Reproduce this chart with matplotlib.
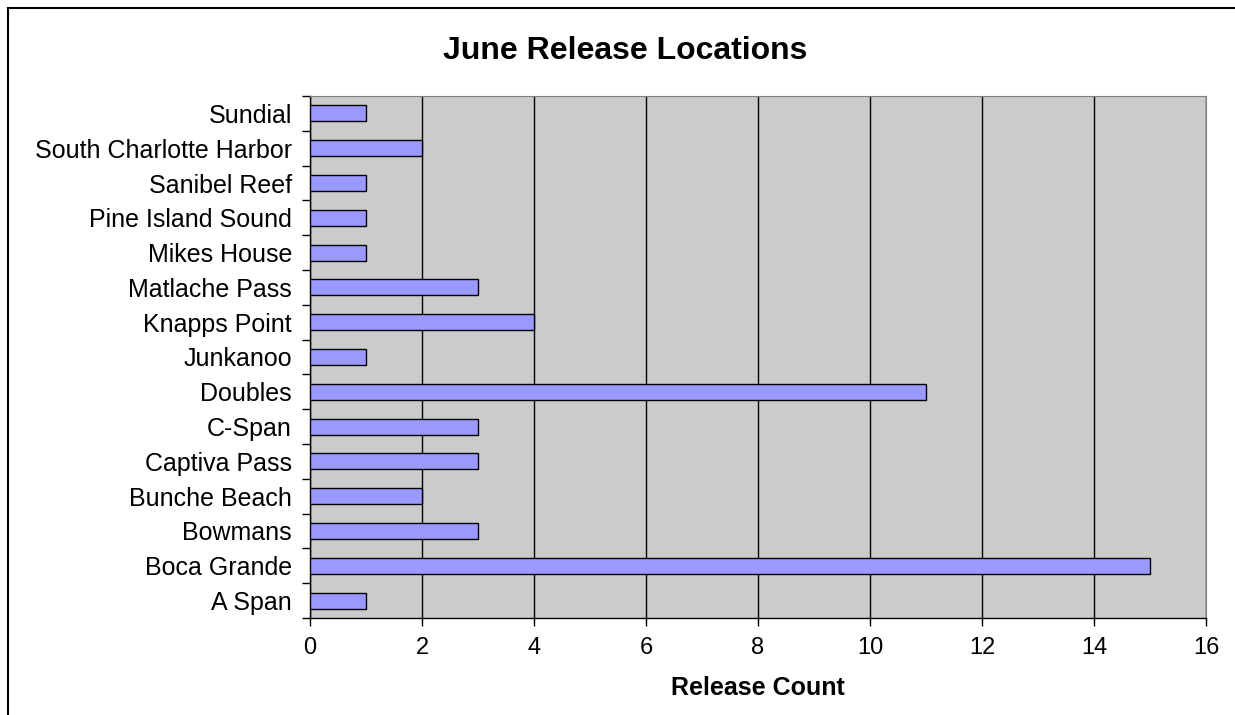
import matplotlib.pyplot as plt
from matplotlib.patches import Rectangle

plt.rcParams['font.family'] = ['Liberation Sans', 'DejaVu Sans']

locations = ["A Span", "Boca Grande", "Bowmans", "Bunche Beach", "Captiva Pass",
             "C-Span", "Doubles", "Junkanoo", "Knapps Point", "Matlache Pass",
             "Mikes House", "Pine Island Sound", "Sanibel Reef",
             "South Charlotte Harbor", "Sundial"]
counts = [1, 15, 3, 2, 3, 3, 11, 1, 4, 3, 1, 1, 1, 2, 1]
xticks = [0, 2, 4, 6, 8, 10, 12, 14, 16]

fig = plt.figure(figsize=(12.35, 7.15), dpi=100)
ax = fig.add_axes([0.251, 0.1357, 0.7255, 0.73])

# outer chart border
fig.patches.append(Rectangle((8/1235, -0.05), 1.2, 1 - 8/715 + 0.05,
                             transform=fig.transFigure, fill=False,
                             edgecolor='black', linewidth=1.5))

ax.set_facecolor('#CBCBCB')
ax.barh(range(len(locations)), counts, height=0.46, color='#9999FF',
        edgecolor='black', linewidth=1, zorder=3)

ax.set_xlim(0, 16)
ax.set_ylim(-0.5, len(locations) - 0.5)
ax.set_xticks(xticks)
ax.set_xticklabels([str(t) for t in xticks], fontsize=17)
ax.xaxis.grid(True, color='black', linewidth=1, zorder=1)
ax.set_axisbelow(True)

ax.set_yticks(range(len(locations)))
ax.set_yticklabels(locations, fontsize=18)
ax.tick_params(axis='y', length=0, pad=13)
ax.set_yticks([i - 0.5 for i in range(len(locations) + 1)], minor=True)
ax.tick_params(axis='y', which='minor', length=6, direction='out', width=1)
ax.tick_params(axis='x', length=6, direction='out', width=1, pad=8)

for s in ['top', 'right']:
    ax.spines[s].set_color('#808080')
for s in ['left', 'bottom']:
    ax.spines[s].set_color('black')
    ax.spines[s].set_linewidth(1)

ax.set_xlabel('Release Count', fontsize=18, fontweight='bold', labelpad=12)
fig.text(0.506, 0.929, 'June Release Locations',
         ha='center', va='center', fontsize=23, fontweight='bold')

fig.savefig('out.png', dpi=100)
